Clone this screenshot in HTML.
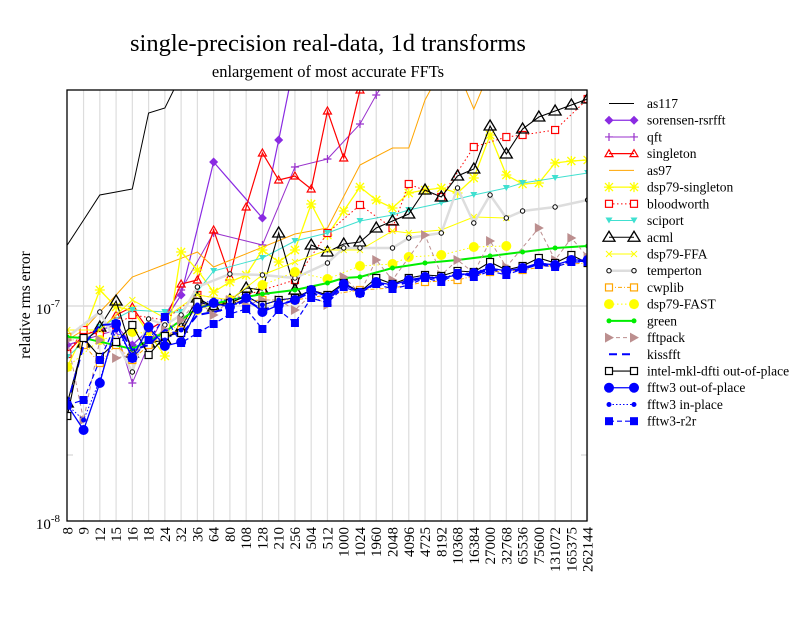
<!DOCTYPE html>
<html><head><meta charset="utf-8"><style>
html,body{margin:0;padding:0;background:#fff;}
svg text{font-family:"Liberation Serif",serif;fill:#000;}
</style></head><body>
<svg id="s" width="792" height="612" xmlns="http://www.w3.org/2000/svg">
<rect width="792" height="612" fill="#fff"/>
<text x="328" y="51" font-size="24.5" text-anchor="middle">single-precision real-data, 1d transforms</text>
<text x="328" y="77" font-size="16.5" text-anchor="middle">enlargement of most accurate FFTs</text>
<text transform="translate(30,305) rotate(-90)" font-size="15.5" text-anchor="middle">relative rms error</text>
<text x="60" y="314" font-size="15" text-anchor="end">10<tspan dy="-7" font-size="11">-7</tspan></text>
<text x="60" y="529" font-size="15" text-anchor="end">10<tspan dy="-7" font-size="11">-8</tspan></text>
<defs><clipPath id="c"><rect x="67" y="90" width="520" height="431"/></clipPath></defs>
<g id="grid"></g>
<g id="ser" clip-path="url(#c)"></g>
<rect x="67" y="90" width="520" height="431" fill="none" stroke="#000" stroke-width="1.3"/>
<g id="xl"></g>
<g id="leg"></g>
</svg>
<script>
const NS="http://www.w3.org/2000/svg";
function el(t,a,p){const e=document.createElementNS(NS,t);for(const k in a)e.setAttribute(k,a[k]);p.appendChild(e);return e;}
const X=i=>67.3+16.26*i;
const labels=["8","9","12","15","16","18","24","32","36","64","80","108","128","210","256","504","512","1000","1024","1960","2048","4096","4725","8192","10368","16384","27000","32768","65536","75600","131072","165375","262144"];
const g=document.getElementById('grid'),xl=document.getElementById('xl');
for(let i=1;i<33;i++)el('line',{x1:X(i),x2:X(i),y1:90,y2:521,stroke:'#ddd','stroke-width':1.2},g);
el('line',{x1:67,x2:587,y1:306,y2:306,stroke:'#ddd','stroke-width':1.5},g);
el('line',{x1:67,x2:73,y1:455,y2:455,stroke:'#ccc'},g);el('line',{x1:581,x2:587,y1:455,y2:455,stroke:'#ccc'},g);
labels.forEach((l,i)=>{const t=el('text',{transform:`translate(${X(i)+5},527) rotate(-90)`,'font-size':15,'text-anchor':'end'},xl);t.textContent=l;});
function interp(pts){const a=[];const keys=Object.keys(pts).map(Number).sort((p,q)=>p-q);for(let i=0;i<33;i++){if(pts[i]!==undefined){a.push(pts[i]);continue;}let lo=null,hi=null;for(const k of keys){if(k<i)lo=k;if(k>i&&hi===null)hi=k;}if(lo===null||hi===null){a.push(null);continue;}a.push(pts[lo]+(pts[hi]-pts[lo])*(i-lo)/(hi-lo));}return a;}
function marker(m,x,y,c,p){
 if(m==='dia')el('polygon',{points:`${x},${y-4.5} ${x+4.5},${y} ${x},${y+4.5} ${x-4.5},${y}`,fill:c},p);
 else if(m==='plus'){el('path',{d:`M${x-4},${y}h8M${x},${y-4}v8`,stroke:c,'stroke-width':1.2},p);}
 else if(m==='tri')el('polygon',{points:`${x},${y-4} ${x+4},${y+3} ${x-4},${y+3}`,fill:'none',stroke:c,'stroke-width':1.2},p);
 else if(m==='bigtri')el('polygon',{points:`${x},${y-6} ${x+6},${y+4} ${x-6},${y+4}`,fill:'none',stroke:c,'stroke-width':1.3},p);
 else if(m==='star'){el('path',{d:`M${x-5},${y}h10M${x},${y-5}v10M${x-4},${y-4}l8,8M${x-4},${y+4}l8,-8`,stroke:c,'stroke-width':1.3},p);}
 else if(m==='sq')el('rect',{x:x-3.5,y:y-3.5,width:7,height:7,fill:'#fff',stroke:c,'stroke-width':1.2},p);
 else if(m==='tdown')el('polygon',{points:`${x-3.5},${y-3} ${x+3.5},${y-3} ${x},${y+3}`,fill:c},p);
 else if(m==='x'){el('path',{d:`M${x-3},${y-3}l6,6M${x-3},${y+3}l6,-6`,stroke:c,'stroke-width':1},p);}
 else if(m==='oc')el('circle',{cx:x,cy:y,r:2.2,fill:'#fff',stroke:'#000','stroke-width':1},p);
 else if(m==='fc')el('circle',{cx:x,cy:y,r:5,fill:c},p);
 else if(m==='dot')el('circle',{cx:x,cy:y,r:2.5,fill:c},p);
 else if(m==='sdot')el('circle',{cx:x,cy:y,r:2.5,fill:c},p);
 else if(m==='rtri')el('polygon',{points:`${x-4},${y-5} ${x+5},${y} ${x-4},${y+5}`,fill:c},p);
 else if(m==='fsq')el('rect',{x:x-4,y:y-4,width:8,height:8,fill:c},p);
}
const S=[
{n:'as117',c:'#000',w:1,m:null,p:{0:245,1:220,2:195,3:192,4:189,5:113,6:108,7:75,8:40}},
{n:'sorensen-rsrfft',c:'#8a2be2',w:1.2,m:'dia',p:{0:345,1:340,2:330,3:325,4:345,5:330,6:320,7:295,9:162,12:218,13:140,14:60}},
{n:'qft',c:'#9932cc',w:1,m:'plus',p:{0:345,1:340,2:335,3:330,4:383,5:345,6:315,7:290,9:233,12:245,14:167,16:159,18:124,19:95,20:70}},
{n:'singleton',c:'#f00',w:1.2,m:'tri',p:{0:353,1:335,2:330,3:315,4:307,5:330,6:320,7:284,8:280,9:230,10:277,11:207,12:153,13:180,14:176,15:189,16:111,17:158,18:90,19:40}},
{n:'as97',c:'#ffa500',w:1,m:null,p:{0:340,1:330,2:312,3:295,4:277,8:252,9:267,14:234,16:228,18:165,20:148,21:148,22:100,23:70,24:70,25:109,26:70}},
{n:'dsp79-singleton',c:'#ffff00',w:1.3,m:'star',p:{0:367,1:333,2:290,3:307,4:310,5:333,6:356,7:252,8:270,9:292,10:282,11:275,12:250,13:262,14:250,15:204,16:235,17:211,18:187,19:200,20:208,21:193,22:190,23:188,24:193,25:178,26:135,27:175,28:184,29:183,30:163,31:161,32:160}},
{n:'bloodworth',c:'#f00',w:1,m:'sq',d:'1.5,2.5',p:{0:354,1:330,2:335,3:325,4:315,6:320,8:295,10:300,12:290,14:280,16:233,18:205,20:228,21:184,23:197,25:147,27:137,28:135,30:130,32:99}},
{n:'sciport',c:'#40e0d0',w:1,m:'tdown',p:{0:357,2:327,4:310,6:312,7:312,9:271,12:258,14:241,16:233,18:221,20:215,21:210,23:203,25:195,27:188,28:183,30:178,32:173}},
{n:'acml',c:'#000',w:1.1,m:'bigtri',p:{0:403,1:343,2:327,3:301,4:353,5:343,6:340,7:328,8:298,9:307,10:300,11:288,12:290,13:233,14:290,15:245,16:252,17:244,18:242,19:228,20:221,21:214,22:190,23:197,24:176,25:169,26:126,27:154,28:129,29:117,30:111,31:105,32:99}},
{n:'dsp79-FFA',c:'#ffff00',w:1,m:'x',p:{0:330,2:330,4:300,6:318,8:295,10:300,12:275,14:262,16:250,17:250,18:250,20:231,21:233,23:230,25:217,27:218}},
{n:'temperton',c:'#ddd',w:2.5,m:'oc',p:{0:337,2:312,4:372,5:319,6:325,7:315,8:287,10:274,12:275,14:278,16:263,17:248,18:248,20:248,21:238,23:233,24:188,25:223,26:195,27:218,28:211,30:207,32:200}},
{n:'cwplib',c:'#ffa500',w:1,m:'sq',d:'4,2,1,2',p:{0:337,1:345,2:363,3:345,4:360,5:345,6:335,7:330,8:305,9:305,10:302,12:300,14:300,16:295,18:290,20:288,22:282,24:280,26:272,28:270,30:265,32:263}},
{n:'dsp79-FAST',c:'#ffff00',w:1,m:'fc',d:'1.5,2.5',p:{0:367,2:340,4:332,6:335,8:310,10:300,12:285,14:272,16:279,18:266,20:264,21:257,23:255,25:247,27:246}},
{n:'green',c:'#00ee00',w:2,m:'dot',p:{0:337,1:338,4:349,6:332,8:308,10:300,12:294,14:290,16:283,17:278,18:277,20:268,22:263,24:260,26:256,28:252,30:248,32:246}},
{n:'fftpack',c:'#bc8f8f',w:1,m:'rtri',d:'4,3',p:{0:340,1:420,2:340,3:358,4:355,5:340,6:330,7:320,8:300,9:315,10:300,11:305,12:300,13:300,14:310,15:295,16:305,17:277,18:293,19:260,20:280,22:235,23:275,24:260,25:273,26:241,27:267,29:228,30:260,31:238,32:257}},
{n:'kissfft',c:'#0000ff',w:2,m:null,d:'8,5',p:{0:405,1:345,2:325,3:324,4:350,5:345,6:330,7:335,8:315,9:312,10:308,11:300,12:310,13:305,14:300,15:292,16:300,17:285,18:292,19:283,20:286,21:282,22:277,23:279,24:274,25:275,26:269,27:273,28:269,29:264,30:266,31:261,32:261}},
{n:'intel-mkl-dfti out-of-place',c:'#000',w:1.1,m:'sq',p:{0:416,1:338,2:357,3:342,4:325,5:355,6:336,7:333,8:302,9:306,10:303,11:296,12:305,13:300,14:298,15:290,16:295,17:283,18:292,19:278,20:284,21:278,22:275,23:276,24:271,25:272,26:262,27:270,28:266,29:258,30:263,31:255,32:263}},
{n:'fftw3 out-of-place',c:'#0000ff',w:1.3,m:'fc',p:{0:405,1:430,2:383,3:324,4:358,5:327,6:346,7:342,8:309,9:303,10:307,11:298,12:312,13:305,14:300,15:290,16:297,17:284,18:293,19:282,20:285,21:280,22:277,23:278,24:275,25:273,26:268,27:271,28:268,29:263,30:265,31:260,32:260}},
{n:'fftw3 in-place',c:'#0000ff',w:1,m:'sdot',d:'1.5,2',p:{0:405,1:420,2:380,3:330,4:355,5:330,6:340,7:330,8:305,9:300,10:300,11:296,12:305,13:300,14:298,15:290,16:296,17:284,18:292,19:282,20:285,21:280,22:277,23:277,24:275,25:272,26:268,27:271,28:268,29:263,30:265,31:260,32:260}},
{n:'fftw3-r2r',c:'#0000ff',w:1.2,m:'fsq',d:'5,3',p:{0:405,1:400,2:360,3:324,4:358,5:340,6:317,7:343,8:333,9:324,10:314,11:309,12:329,13:310,14:323,15:298,16:303,17:287,18:293,19:284,20:289,21:285,22:278,23:282,24:273,25:277,26:271,27:275,28:269,29:265,30:267,31:262,32:262}}
];
const sg=document.getElementById('ser'),lg=document.getElementById('leg');
S.forEach((s,k)=>{
 const ys=interp(s.p);let d='';let started=false;
 ys.forEach((y,i)=>{if(y===null)return;d+=(started?'L':'M')+X(i).toFixed(1)+','+y.toFixed(1);started=true;});
 const a={d:d,fill:'none',stroke:s.c,'stroke-width':s.w};if(s.d)a['stroke-dasharray']=s.d;
 el('path',a,sg);
 if(s.m)ys.forEach((y,i)=>{if(y!==null&&s.p[i]!==undefined)marker(s.m,X(i),y,s.c,sg);});
 const ly=103.5+k*16.72;
 const la={x1:609,x2:634,y1:ly,y2:ly,stroke:s.c,'stroke-width':Math.max(s.w,1)};if(s.d)la['stroke-dasharray']=s.d;
 el('line',la,lg);
 if(s.m){marker(s.m,609,ly,s.c,lg);marker(s.m,634,ly,s.c,lg);}
 const t=el('text',{x:647,y:ly+4.5,'font-size':13.5},lg);t.textContent=s.n;
});
</script>
</body></html>
